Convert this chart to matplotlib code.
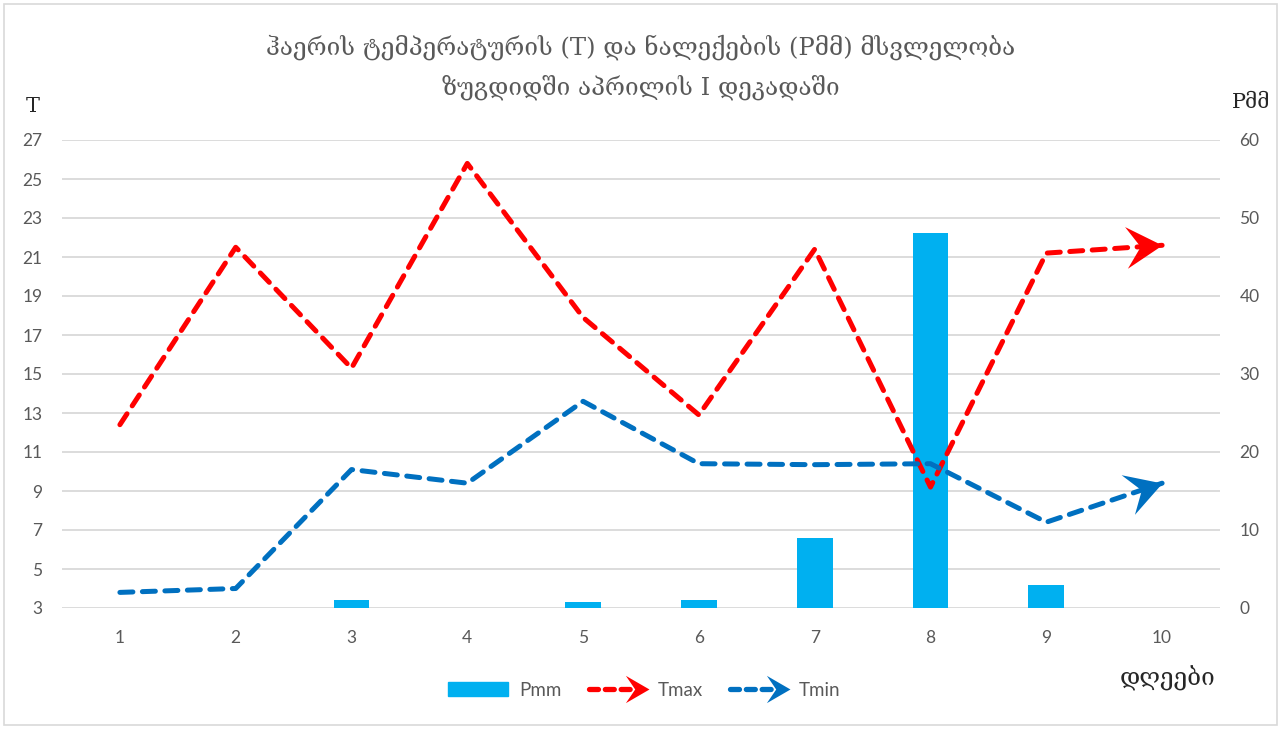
import numpy as np
import matplotlib
matplotlib.use('Agg')
import matplotlib.pyplot as plt
from matplotlib.path import Path
from matplotlib.markers import MarkerStyle
from matplotlib.transforms import Affine2D
from matplotlib.lines import Line2D
from matplotlib.patches import Rectangle, Patch
from matplotlib.legend_handler import HandlerBase

# data
days = [1, 2, 3, 4, 5, 6, 7, 8, 9, 10]
tmax = [12.4, 21.5, 15.3, 25.8, 17.9, 12.9, 21.4, 9.2, 21.2, 21.6]
tmin = [3.8, 4.0, 10.1, 9.4, 13.6, 10.4, 10.35, 10.4, 7.4, 9.4]
pmm = [0, 0, 1.0, 0, 0.8, 1.0, 9.0, 48.1, 3.0, 0]
t_ticks = list(range(3, 28, 2))
p_ticks = list(range(0, 61, 10))

title = "ჰაერის ტემპერატურის (T) და ნალექების (Pმმ) მსვლელობა\nზუგდიდში აპრილის I დეკადაში"

RED = '#FF0000'
BLUE = '#0070C0'
BAR = '#00B0F0'
GRAY = '#595959'
GRID = '#D9D9D9'
GEO = ['DejaVu Serif', 'DejaVu Sans']
NUM = ['Lato', 'DejaVu Sans']

# arrow head with its tip at (0, 0)
head_path = Path([(0, 0), (-1.9, 1.1), (-1.15, 0), (-1.9, -1.1), (0, 0)],
                 [Path.MOVETO, Path.LINETO, Path.LINETO, Path.LINETO, Path.CLOSEPOLY])


def head_marker(angle):
    return MarkerStyle(head_path, transform=Affine2D().rotate_deg(angle))


fig = plt.figure(figsize=(12.81, 7.29), dpi=100)
fig.add_artist(Rectangle((0.003, 0.005), 0.994, 0.99, transform=fig.transFigure,
                         fill=False, edgecolor=GRID, lw=1.2))

ax_p = fig.add_axes([62 / 1281, 1 - 608 / 729, (1220 - 62) / 1281, 468 / 729])
ax_t = ax_p.twinx()

# precipitation bars (right scale)
ax_p.bar(days, pmm, width=0.31, color=BAR, zorder=2)
ax_p.set_ylim(0, 60)
ax_p.set_xlim(0.5, 10.5)
ax_p.set_yticks(p_ticks)
ax_p.set_yticks(range(0, 61, 5), minor=True)
ax_p.yaxis.tick_right()
ax_p.grid(axis='y', which='both', color=GRID, lw=1.3, zorder=0)
ax_p.set_axisbelow(True)
ax_p.set_xticks(days)
ax_p.tick_params(axis='x', length=0, pad=16, labelsize=12.5, labelcolor=GRAY)
ax_p.tick_params(axis='y', which='both', length=0, pad=14, labelsize=12.5,
                 labelcolor=GRAY, left=False, labelleft=False,
                 right=False, labelright=True)
for lab in ax_p.get_xticklabels() + ax_p.get_yticklabels():
    lab.set_family(NUM)

# temperatures (left scale)
ax_t.set_ylim(3, 27)
ax_t.set_xlim(0.5, 10.5)
ax_t.set_yticks(t_ticks)
ax_t.yaxis.tick_left()
ax_t.tick_params(axis='y', length=0, pad=14, labelsize=12.5, labelcolor=GRAY,
                 right=False, labelright=False, left=False, labelleft=True)
for lab in ax_t.get_yticklabels():
    lab.set_family(NUM)

for a in (ax_p, ax_t):
    for s in a.spines.values():
        s.set_visible(False)

for series, col in ((tmax, RED), (tmin, BLUE)):
    ax_t.plot(days, series, color=col, lw=3.6, dashes=(2.6, 1.9),
              dash_capstyle='round', solid_joinstyle='round', zorder=3)
    p0 = ax_t.transData.transform((days[-2], series[-2]))
    p1 = ax_t.transData.transform((days[-1], series[-1]))
    ang = np.degrees(np.arctan2(p1[1] - p0[1], p1[0] - p0[0]))
    ax_t.plot([days[-1]], [series[-1]], ls='none', marker=head_marker(ang),
              markersize=52, color=col, mec=col, mew=0, zorder=4)


class ArrowLegend(HandlerBase):
    def create_artists(self, legend, orig_handle, xdescent, ydescent,
                       width, height, fontsize, trans):
        col = orig_handle.get_color()
        y = height / 2 - ydescent
        x0 = -xdescent
        line = Line2D([x0 + 2, x0 + width - 10], [y, y], color=col, lw=3.8,
                      dashes=(1.7, 1.3), dash_capstyle='round', transform=trans)
        head = Line2D([x0 + width + 2], [y], ls='none', marker=head_marker(0),
                      markersize=34, color=col, mew=0, transform=trans)
        return [line, head]


handles = [Patch(color=BAR), Line2D([], [], color=RED), Line2D([], [], color=BLUE)]
leg = fig.legend(handles, ['Pmm', 'Tmax', 'Tmin'], loc='center',
                 bbox_to_anchor=(0.503, 1 - 690 / 729), ncol=3, frameon=False,
                 handlelength=3.2, handleheight=0.75,
                 columnspacing=1.3, handletextpad=0.6,
                 handler_map={Line2D: ArrowLegend()},
                 prop={'family': NUM, 'size': 13.5})
for t in leg.get_texts():
    t.set_color(GRAY)

fig.text(0.5, 1 - 67 / 729, title, ha='center', va='center', fontsize=17.5,
         color=GRAY, family=GEO, linespacing=1.7)
fig.text(33 / 1281, 1 - 107 / 729, 'T', ha='center', va='center', fontsize=15,
         color='#262626', family=GEO)
fig.text(1251 / 1281, 1 - 103 / 729, 'Pმმ', ha='center', va='center', fontsize=15,
         color='#262626', family=GEO)
fig.text(1168 / 1281, 1 - 678 / 729, 'დღეები', ha='center', va='center',
         fontsize=17.5, color='#262626', family=GEO)

fig.savefig('out.png', dpi=100)
